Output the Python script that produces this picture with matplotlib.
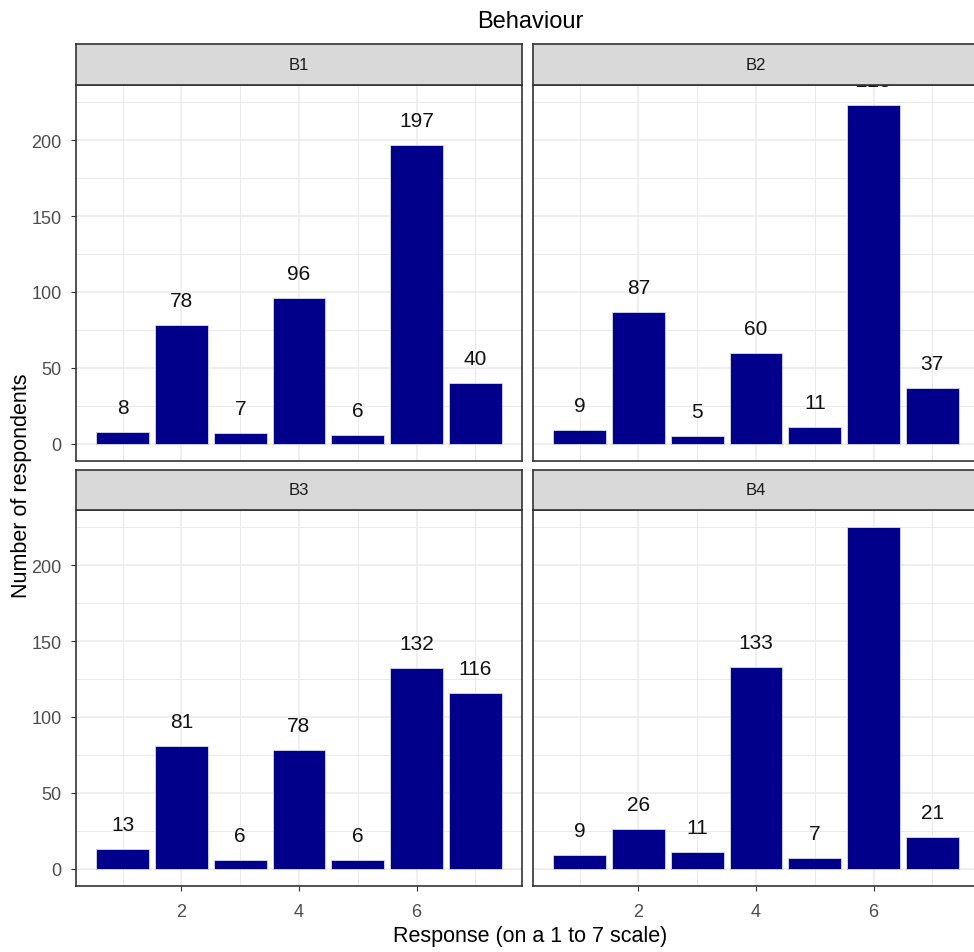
import numpy as np
import matplotlib
matplotlib.use("Agg")
import matplotlib.pyplot as plt

plt.rcParams['font.family'] = ['Liberation Sans', 'DejaVu Sans']

# responses on a 1-7 scale, counts per behaviour item
responses = [1, 2, 3, 4, 5, 6, 7]
b1 = [8, 78, 7, 96, 6, 197, 40]
b2 = [9, 87, 5, 60, 11, 223, 37]
b3 = [13, 81, 6, 78, 6, 132, 116]
b4 = [9, 26, 11, 133, 7, 225, 21]
items = ['B1', 'B2', 'B3', 'B4']
counts = [b1, b2, b3, b4]

W, H = 974, 953
fig = plt.figure(figsize=(W / 100, H / 100), dpi=100)

def frac(x0, y0, x1, y1):
    # pixel box (top-left origin) -> figure fraction rect
    return [x0 / W, (H - y1) / H, (x1 - x0) / W, (y1 - y0) / H]

panels = [(76, 86, 522, 462), (533, 86, 979, 462),
          (76, 511, 522, 887), (533, 511, 979, 887)]
strips = [(76, 45, 522, 86), (533, 45, 979, 86),
          (76, 471, 522, 511), (533, 471, 979, 511)]

navy = '#00008B'
grid_col = '#EBEBEB'
border = '#333333'

for i, (name, vals) in enumerate(zip(items, counts)):
    ax = fig.add_axes(frac(*panels[i]))
    ax.set_xlim(0.205, 7.795)
    ax.set_ylim(-11.25, 236.25)
    ax.set_xticks([2, 4, 6])
    ax.set_xticks([1, 3, 5, 7], minor=True)
    ax.set_yticks([0, 50, 100, 150, 200])
    ax.set_yticks([25, 75, 125, 175, 225], minor=True)
    ax.grid(True, which='major', color=grid_col, lw=1.1)
    ax.grid(True, which='minor', color=grid_col, lw=0.7)
    ax.set_axisbelow(True)
    ax.tick_params(which='minor', length=0)
    ax.tick_params(which='major', length=3.5, color=border, width=0.8,
                   labelsize=13, labelcolor='#4D4D4D', pad=7)
    ax.tick_params(axis='x', pad=9)
    for s in ax.spines.values():
        s.set_color(border)
        s.set_linewidth(1.2)

    ax.bar(responses, vals, width=0.9, color=navy, edgecolor='#D8D8F0', lw=0.6)
    # count labels sit above each bar; ones past the top get clipped
    for x, v in zip(responses, vals):
        ax.text(x, v + 12.5, str(v), ha='center', va='baseline',
                fontsize=15, color='#111111', clip_on=True)

    if i % 2 == 1:
        ax.tick_params(axis='y', left=False, labelleft=False)
    if i < 2:
        ax.tick_params(axis='x', bottom=False, labelbottom=False)

    sx = fig.add_axes(frac(*strips[i]))
    sx.set_facecolor('#D9D9D9')
    sx.set_xticks([])
    sx.set_yticks([])
    for s in sx.spines.values():
        s.set_color(border)
        s.set_linewidth(1.2)
    sx.text(0.5, 0.5, name, ha='center', va='center', fontsize=12,
            color='#1A1A1A', transform=sx.transAxes)

fig.text(530 / W, 1 - 22 / H, 'Behaviour', ha='center', va='center',
         fontsize=17, color='black')
fig.text(530 / W, 1 - 937 / H, 'Response (on a 1 to 7 scale)', ha='center',
         va='center', fontsize=15.5, color='black')
fig.text(22 / W, 1 - 486 / H, 'Number of respondents', ha='center',
         va='center', rotation=90, fontsize=15.5, color='black')

fig.savefig('out.png', dpi=100, facecolor='white')
